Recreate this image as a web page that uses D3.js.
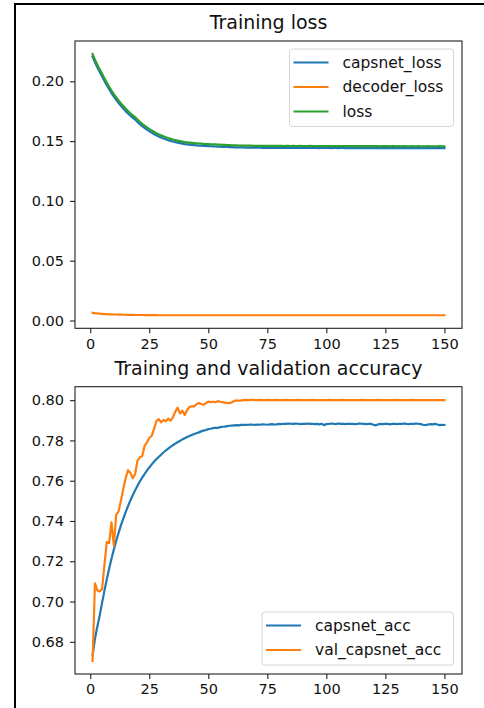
<!DOCTYPE html>
<html>
<head>
<meta charset="utf-8">
<script src="https://cdn.jsdelivr.net/npm/d3@7"></script>
<style>
  body { margin: 0; background: #fff; }
  svg { display: block; font-family: "DejaVu Sans", sans-serif; }
</style>
</head>
<body>
<div id="chart"></div>
<script>
// epochs 1..150
var epochs = d3.range(1, 151);

var capsnetLoss = [
  0.2206, 0.2159, 0.2118, 0.2079, 0.2043, 0.2004, 0.1968, 0.1934, 0.1902, 0.1873,
  0.1845, 0.1819, 0.1795, 0.1772, 0.1751, 0.1731, 0.1713, 0.1696, 0.1680, 0.1660,
  0.1642, 0.1625, 0.1610, 0.1596, 0.1583, 0.1571, 0.1559, 0.1549, 0.1539, 0.1530,
  0.1522, 0.1515, 0.1508, 0.1502, 0.1497, 0.1492, 0.1487, 0.1483, 0.1479, 0.1475,
  0.1473, 0.1471, 0.1469, 0.1467, 0.1465, 0.1463, 0.1462, 0.1460, 0.1459, 0.1458,
  0.1457, 0.1456, 0.1455, 0.1454, 0.1453, 0.1452, 0.1451, 0.1451, 0.1450, 0.1449,
  0.1448, 0.1448, 0.1447, 0.1447, 0.1447, 0.1446, 0.1446, 0.1446, 0.1445, 0.1445,
  0.1445, 0.1445, 0.1444, 0.1445, 0.1444, 0.1444, 0.1445, 0.1444, 0.1444, 0.1444,
  0.1444, 0.1443, 0.1444, 0.1444, 0.1443, 0.1444, 0.1443, 0.1443, 0.1444, 0.1443,
  0.1443, 0.1443, 0.1444, 0.1443, 0.1443, 0.1443, 0.1442, 0.1443, 0.1443, 0.1443,
  0.1443, 0.1442, 0.1443, 0.1443, 0.1442, 0.1443, 0.1443, 0.1442, 0.1442, 0.1443,
  0.1442, 0.1442, 0.1443, 0.1442, 0.1442, 0.1442, 0.1443, 0.1442, 0.1442, 0.1442,
  0.1442, 0.1442, 0.1441, 0.1442, 0.1442, 0.1442, 0.1441, 0.1442, 0.1442, 0.1441,
  0.1442, 0.1441, 0.1442, 0.1441, 0.1441, 0.1442, 0.1441, 0.1441, 0.1442, 0.1441,
  0.1441, 0.1441, 0.1442, 0.1441, 0.1441, 0.1441, 0.1441, 0.1442, 0.1441, 0.1441
];

var decoderLoss = [
  0.0064, 0.0061, 0.0059, 0.0057, 0.0056, 0.0054, 0.0053, 0.0052, 0.0051, 0.0050,
  0.0050, 0.0049, 0.0049, 0.0048, 0.0048, 0.0047, 0.0047, 0.0047, 0.0046, 0.0046,
  0.0046, 0.0046, 0.0045, 0.0045, 0.0045, 0.0045, 0.0045, 0.0045, 0.0044, 0.0044,
  0.0044, 0.0044, 0.0044, 0.0044, 0.0044, 0.0044, 0.0044, 0.0044, 0.0044, 0.0044,
  0.0044, 0.0044, 0.0044, 0.0044, 0.0044, 0.0044, 0.0044, 0.0044, 0.0044, 0.0044,
  0.0044, 0.0044, 0.0044, 0.0044, 0.0044, 0.0044, 0.0044, 0.0044, 0.0044, 0.0044,
  0.0044, 0.0044, 0.0044, 0.0044, 0.0044, 0.0044, 0.0044, 0.0044, 0.0044, 0.0044,
  0.0044, 0.0044, 0.0044, 0.0044, 0.0044, 0.0044, 0.0044, 0.0044, 0.0044, 0.0044,
  0.0044, 0.0044, 0.0044, 0.0044, 0.0044, 0.0044, 0.0044, 0.0044, 0.0044, 0.0044,
  0.0044, 0.0044, 0.0044, 0.0044, 0.0044, 0.0044, 0.0044, 0.0044, 0.0044, 0.0044,
  0.0044, 0.0044, 0.0044, 0.0044, 0.0044, 0.0044, 0.0044, 0.0044, 0.0044, 0.0044,
  0.0044, 0.0044, 0.0044, 0.0044, 0.0044, 0.0044, 0.0044, 0.0044, 0.0044, 0.0044,
  0.0044, 0.0044, 0.0044, 0.0044, 0.0044, 0.0044, 0.0044, 0.0044, 0.0044, 0.0044,
  0.0044, 0.0044, 0.0044, 0.0044, 0.0044, 0.0044, 0.0044, 0.0044, 0.0044, 0.0044,
  0.0044, 0.0044, 0.0044, 0.0044, 0.0044, 0.0044, 0.0044, 0.0044, 0.0044, 0.0044
];

var totalLoss = [
  0.2228, 0.2180, 0.2139, 0.2100, 0.2064, 0.2025, 0.1989, 0.1955, 0.1923, 0.1894,
  0.1866, 0.1840, 0.1816, 0.1793, 0.1772, 0.1752, 0.1733, 0.1716, 0.1700, 0.1680,
  0.1662, 0.1645, 0.1629, 0.1615, 0.1602, 0.1590, 0.1578, 0.1567, 0.1557, 0.1548,
  0.1540, 0.1533, 0.1526, 0.1520, 0.1514, 0.1509, 0.1504, 0.1500, 0.1496, 0.1492,
  0.1490, 0.1488, 0.1486, 0.1484, 0.1482, 0.1480, 0.1479, 0.1477, 0.1476, 0.1475,
  0.1474, 0.1473, 0.1472, 0.1471, 0.1470, 0.1469, 0.1468, 0.1467, 0.1466, 0.1465,
  0.1464, 0.1464, 0.1463, 0.1463, 0.1463, 0.1462, 0.1462, 0.1462, 0.1461, 0.1461,
  0.1461, 0.1461, 0.1460, 0.1461, 0.1460, 0.1460, 0.1461, 0.1460, 0.1460, 0.1460,
  0.1460, 0.1459, 0.1460, 0.1460, 0.1459, 0.1460, 0.1459, 0.1459, 0.1460, 0.1459,
  0.1459, 0.1459, 0.1460, 0.1459, 0.1459, 0.1459, 0.1458, 0.1459, 0.1459, 0.1459,
  0.1459, 0.1458, 0.1459, 0.1459, 0.1458, 0.1459, 0.1459, 0.1458, 0.1458, 0.1459,
  0.1458, 0.1458, 0.1459, 0.1458, 0.1458, 0.1458, 0.1459, 0.1458, 0.1458, 0.1458,
  0.1458, 0.1458, 0.1457, 0.1458, 0.1458, 0.1458, 0.1457, 0.1458, 0.1458, 0.1457,
  0.1458, 0.1457, 0.1458, 0.1457, 0.1457, 0.1458, 0.1457, 0.1457, 0.1458, 0.1457,
  0.1457, 0.1457, 0.1458, 0.1457, 0.1457, 0.1457, 0.1457, 0.1458, 0.1457, 0.1457
];

var capsnetAcc = [
  0.6733, 0.6815, 0.6875, 0.6930, 0.6992, 0.7053, 0.7110, 0.7163, 0.7212, 0.7258,
  0.7301, 0.7341, 0.7378, 0.7412, 0.7444, 0.7474, 0.7502, 0.7528, 0.7552, 0.7575,
  0.7596, 0.7615, 0.7633, 0.7650, 0.7666, 0.7680, 0.7694, 0.7707, 0.7718, 0.7729,
  0.7740, 0.7750, 0.7759, 0.7768, 0.7776, 0.7784, 0.7791, 0.7798, 0.7805, 0.7811,
  0.7817, 0.7822, 0.7827, 0.7832, 0.7836, 0.7840, 0.7845, 0.7849, 0.7852, 0.7856,
  0.7858, 0.7861, 0.7863, 0.7862, 0.7866, 0.7868, 0.7869, 0.7871, 0.7873, 0.7874,
  0.7875, 0.7876, 0.7875, 0.7877, 0.7878, 0.7877, 0.7878, 0.7879, 0.7878, 0.7877,
  0.7879, 0.7878, 0.7880, 0.7879, 0.7878, 0.7880, 0.7881, 0.7879, 0.7880, 0.7882,
  0.7881, 0.7883, 0.7882, 0.7884, 0.7883, 0.7882, 0.7884, 0.7883, 0.7881, 0.7883,
  0.7882, 0.7884, 0.7882, 0.7883, 0.7881, 0.7882, 0.7880, 0.7883, 0.7876, 0.7881,
  0.7882, 0.7884, 0.7883, 0.7881, 0.7884, 0.7882, 0.7883, 0.7881, 0.7883, 0.7882,
  0.7883, 0.7881, 0.7882, 0.7884, 0.7883, 0.7882, 0.7881, 0.7883, 0.7882, 0.7878,
  0.7875, 0.7880, 0.7882, 0.7881, 0.7883, 0.7882, 0.7880, 0.7883, 0.7882, 0.7881,
  0.7883, 0.7882, 0.7884, 0.7882, 0.7881, 0.7883, 0.7882, 0.7884, 0.7883, 0.7881,
  0.7878, 0.7876, 0.7879, 0.7881, 0.7880, 0.7882, 0.7879, 0.7876, 0.7878, 0.7877
];

var valCapsnetAcc = [
  0.6705, 0.7090, 0.7055, 0.7050, 0.7062, 0.7180, 0.7295, 0.7290, 0.7393, 0.7278,
  0.7432, 0.7448, 0.7500, 0.7560, 0.7612, 0.7652, 0.7640, 0.7612, 0.7632, 0.7700,
  0.7716, 0.7722, 0.7772, 0.7790, 0.7812, 0.7822, 0.7856, 0.7895, 0.7906, 0.7890,
  0.7902, 0.7895, 0.7908, 0.7898, 0.7915, 0.7942, 0.7963, 0.7934, 0.7948, 0.7926,
  0.7950, 0.7966, 0.7970, 0.7968, 0.7980, 0.7986, 0.7981, 0.7978, 0.7985, 0.7993,
  0.7990, 0.7992, 0.7990, 0.7995, 0.7992, 0.7990, 0.7988, 0.7986, 0.7985, 0.7990,
  0.7996, 0.7999, 0.7997, 0.7999, 0.8000, 0.8001, 0.8000, 0.8002, 0.8001, 0.8000,
  0.8000, 0.8001, 0.8000, 0.8000, 0.8001, 0.8000, 0.8000, 0.8000, 0.8001, 0.8000,
  0.8000, 0.8000, 0.8001, 0.8000, 0.8000, 0.8000, 0.8000, 0.8001, 0.8000, 0.8000,
  0.8000, 0.8000, 0.8000, 0.8001, 0.8000, 0.8000, 0.8000, 0.8000, 0.8000, 0.8000,
  0.8001, 0.8000, 0.8000, 0.8000, 0.8000, 0.8000, 0.8001, 0.8000, 0.8000, 0.8000,
  0.8000, 0.8000, 0.8000, 0.8000, 0.8001, 0.8000, 0.8000, 0.8000, 0.8000, 0.8000,
  0.8000, 0.8001, 0.8000, 0.8000, 0.8000, 0.8000, 0.8000, 0.8000, 0.8001, 0.8000,
  0.8000, 0.8000, 0.8000, 0.8000, 0.8000, 0.8001, 0.8000, 0.8000, 0.8000, 0.8000,
  0.8000, 0.8000, 0.8000, 0.8000, 0.8000, 0.8000, 0.8000, 0.8000, 0.8000, 0.8000
];

var xTicks = [0, 25, 50, 75, 100, 125, 150];
var lossTicks = [0.00, 0.05, 0.10, 0.15, 0.20];
var accTicks = [0.68, 0.70, 0.72, 0.74, 0.76, 0.78, 0.80];

var svgWidth = 484, svgHeight = 708;
var blue = "#1f77b4", orange = "#ff7f0e", green = "#2ca02c";

var svg = d3.select("#chart").append("svg")
  .attr("width", svgWidth)
  .attr("height", svgHeight);

// the partial figure frame (top and left edges)
svg.append("path")
  .attr("d", "M15,708 L15,4 L484,4")
  .attr("fill", "none")
  .attr("stroke", "#000")
  .attr("stroke-width", 2);

// matplotlib-like 5% margins
function padded(ext) {
  var m = (ext[1] - ext[0]) * 0.05;
  return [ext[0] - m, ext[1] + m];
}

function drawPanel(cfg) {
  var x = d3.scaleLinear()
    .domain(padded(d3.extent(epochs)))
    .range([cfg.left, cfg.right]);

  var allVals = d3.merge(cfg.series.map(s => s.values));
  var y = d3.scaleLinear()
    .domain(padded(d3.extent(allVals)))
    .range([cfg.bottom, cfg.top]);

  var g = svg.append("g");

  // title
  g.append("text")
    .attr("x", (cfg.left + cfg.right) / 2)
    .attr("y", cfg.top - 12)
    .attr("text-anchor", "middle")
    .attr("font-size", 19)
    .attr("fill", "#111")
    .text(cfg.title);

  // lines
  var line = d3.line()
    .x((d, i) => x(epochs[i]))
    .y(d => y(d));

  cfg.series.forEach(function(s) {
    g.append("path")
      .datum(s.values)
      .attr("fill", "none")
      .attr("stroke", s.color)
      .attr("stroke-width", 2.2)
      .attr("stroke-linejoin", "round")
      .attr("stroke-linecap", "square")
      .attr("d", line);
  });

  // axes
  var bottomAxis = d3.axisBottom(x)
    .tickValues(xTicks)
    .tickSize(5)
    .tickPadding(5)
    .tickSizeOuter(0)
    .tickFormat(d3.format("d"));
  var leftAxis = d3.axisLeft(y)
    .tickValues(cfg.ticks)
    .tickSize(5)
    .tickPadding(6)
    .tickSizeOuter(0)
    .tickFormat(d3.format(".2f"));

  var xg = g.append("g")
    .attr("transform", `translate(0, ${cfg.bottom})`)
    .call(bottomAxis);
  var yg = g.append("g")
    .attr("transform", `translate(${cfg.left}, 0)`)
    .call(leftAxis);

  [xg, yg].forEach(function(a) {
    a.select(".domain").remove();
    a.selectAll(".tick line").attr("stroke", "#222").attr("stroke-width", 1.1);
    a.selectAll(".tick text")
      .attr("font-size", 14.5)
      .attr("font-family", "DejaVu Sans")
      .attr("fill", "#111");
  });

  // axes frame
  g.append("rect")
    .attr("x", cfg.left)
    .attr("y", cfg.top)
    .attr("width", cfg.right - cfg.left)
    .attr("height", cfg.bottom - cfg.top)
    .attr("fill", "none")
    .attr("stroke", "#222")
    .attr("stroke-width", 1.1);

  // legend
  var lg = cfg.legend;
  var rowH = 24.5;
  var boxH = cfg.series.length * rowH + 4;
  var leg = g.append("g")
    .attr("transform", `translate(${lg.x}, ${lg.y})`);
  leg.append("rect")
    .attr("width", lg.w)
    .attr("height", boxH)
    .attr("rx", 3)
    .attr("fill", "#fff")
    .attr("fill-opacity", 0.8)
    .attr("stroke", "#d6d6d6")
    .attr("stroke-width", 1);

  cfg.series.forEach(function(s, i) {
    var cy = 13.5 + i * rowH;
    leg.append("line")
      .attr("x1", 4).attr("x2", 39)
      .attr("y1", cy).attr("y2", cy)
      .attr("stroke", s.color)
      .attr("stroke-width", 2.2);
    leg.append("text")
      .attr("x", 53)
      .attr("y", cy)
      .attr("dy", "0.35em")
      .attr("font-size", 15.5)
      .attr("fill", "#111")
      .text(s.name);
  });
}

drawPanel({
  title: "Training loss",
  left: 75, right: 462, top: 41, bottom: 328.3,
  ticks: lossTicks,
  series: [
    { name: "capsnet_loss", values: capsnetLoss, color: blue },
    { name: "decoder_loss", values: decoderLoss, color: orange },
    { name: "loss", values: totalLoss, color: green }
  ],
  legend: { x: 289.5, y: 49, w: 164 }
});

drawPanel({
  title: "Training and validation accuracy",
  left: 75, right: 462, top: 386.7, bottom: 674,
  ticks: accTicks,
  series: [
    { name: "capsnet_acc", values: capsnetAcc, color: blue },
    { name: "val_capsnet_acc", values: valCapsnetAcc, color: orange }
  ],
  legend: { x: 262, y: 612, w: 191.5 }
});
</script>
</body>
</html>
